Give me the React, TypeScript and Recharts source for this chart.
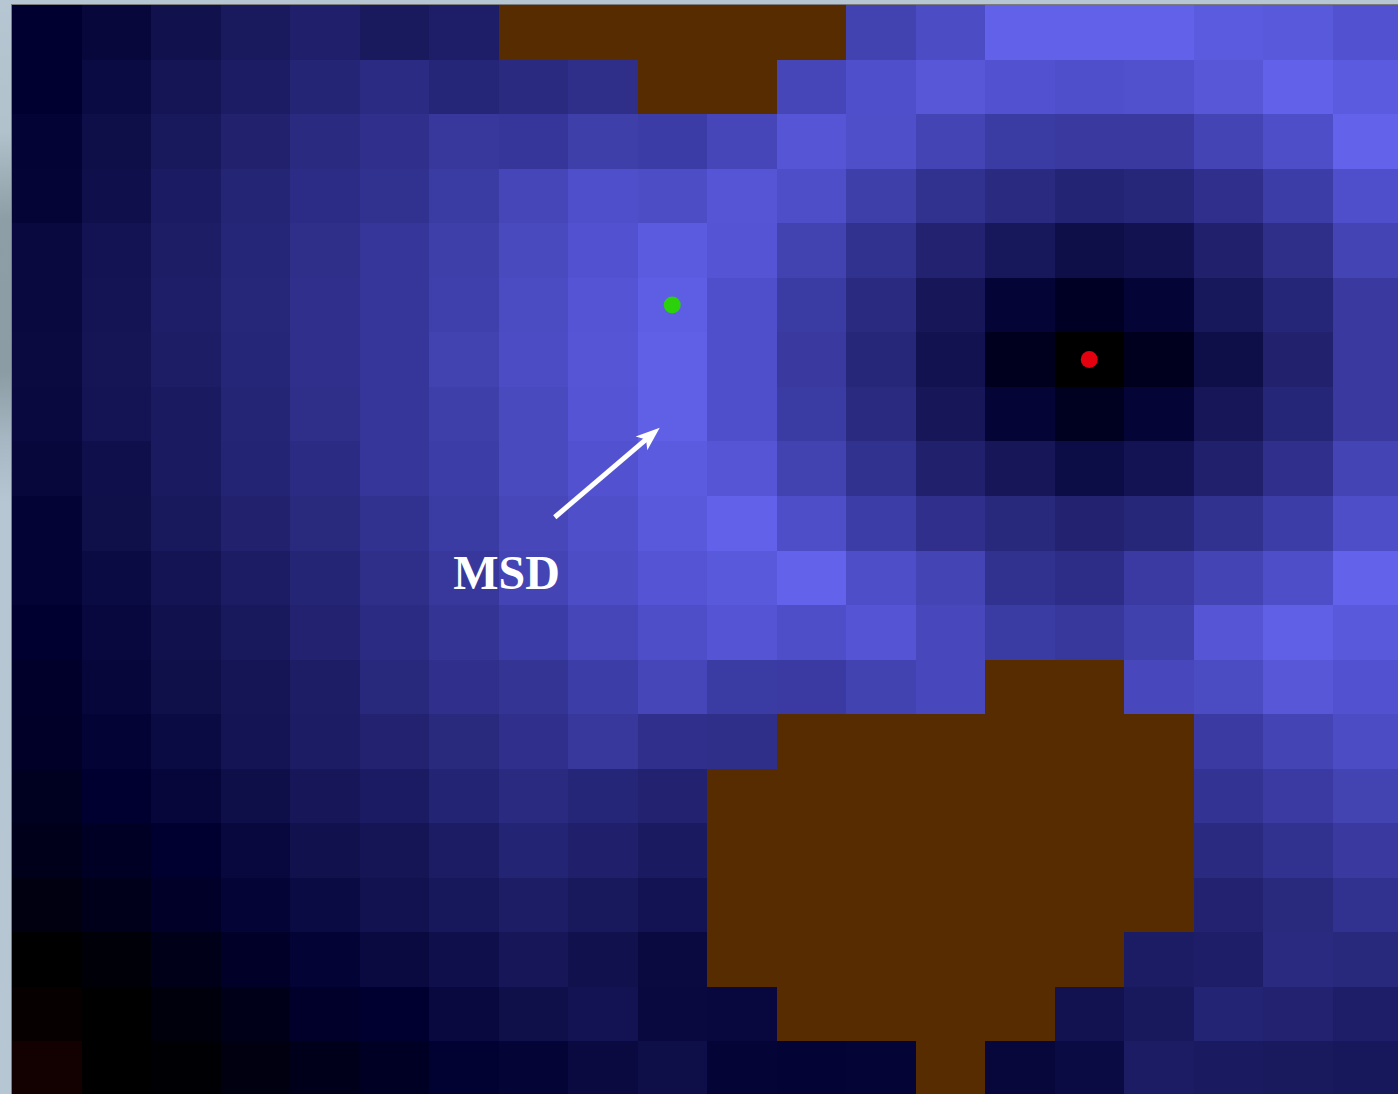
import React from "react";
import { ScatterChart, Scatter, XAxis, YAxis, ReferenceDot } from "recharts";

// grid is 20 x 20 cells, row 0 at the top; null = masked (solid block)
const COLS = 20;
const ROWS = 20;
const CELL_W = 69.5;
const CELL_H = 54.55;
const CHART_W = COLS * CELL_W;
const CHART_H = ROWS * CELL_H;

const MASK_COLOR = "#562c00";

const N = null;
const msdRows: (number | null)[][] = [
  [0.12, 0.17, 0.24, 0.3, 0.35, 0.3, 0.34, N, N, N, N, N, 0.66, 0.765, 0.99, 0.99, 0.99, 0.93, 0.905, 0.83],
  [0.12, 0.2, 0.27, 0.325, 0.39, 0.45, 0.4, 0.435, 0.48, N, N, 0.7, 0.8, 0.88, 0.83, 0.8, 0.82, 0.88, 0.99, 0.93],
  [0.14, 0.22, 0.295, 0.36, 0.435, 0.49, 0.56, 0.55, 0.63, 0.61, 0.7, 0.865, 0.795, 0.68, 0.6, 0.58, 0.58, 0.68, 0.785, 1.0],
  [0.15, 0.23, 0.32, 0.39, 0.46, 0.5, 0.6, 0.7, 0.8, 0.775, 0.865, 0.785, 0.63, 0.5, 0.435, 0.385, 0.41, 0.49, 0.62, 0.8],
  [0.185, 0.26, 0.33, 0.4, 0.48, 0.55, 0.63, 0.74, 0.83, 0.93, 0.85, 0.66, 0.5, 0.37, 0.29, 0.22, 0.25, 0.355, 0.48, 0.68],
  [0.185, 0.265, 0.34, 0.41, 0.49, 0.55, 0.64, 0.755, 0.85, 0.96, 0.8, 0.6, 0.435, 0.28, 0.15, 0.09, 0.15, 0.29, 0.4, 0.58],
  [0.19, 0.27, 0.33, 0.4, 0.49, 0.55, 0.66, 0.765, 0.865, 0.975, 0.8, 0.58, 0.41, 0.25, 0.075, 0.0, 0.075, 0.22, 0.36, 0.58],
  [0.185, 0.265, 0.31, 0.39, 0.48, 0.55, 0.63, 0.74, 0.85, 0.975, 0.8, 0.6, 0.435, 0.28, 0.15, 0.08, 0.15, 0.28, 0.4, 0.58],
  [0.17, 0.23, 0.31, 0.385, 0.45, 0.55, 0.62, 0.74, 0.83, 0.93, 0.865, 0.66, 0.5, 0.355, 0.28, 0.21, 0.26, 0.355, 0.49, 0.68],
  [0.145, 0.225, 0.295, 0.36, 0.425, 0.5, 0.6, 0.71, 0.795, 0.905, 0.99, 0.785, 0.62, 0.49, 0.42, 0.37, 0.41, 0.5, 0.62, 0.785],
  [0.14, 0.2, 0.265, 0.325, 0.39, 0.48, 0.56, 0.68, 0.775, 0.85, 0.905, 1.0, 0.785, 0.68, 0.5, 0.47, 0.59, 0.68, 0.785, 1.0],
  [0.12, 0.18, 0.24, 0.295, 0.37, 0.45, 0.53, 0.61, 0.7, 0.785, 0.85, 0.785, 0.85, 0.72, 0.6, 0.56, 0.65, 0.865, 0.975, 0.905],
  [0.105, 0.16, 0.225, 0.27, 0.33, 0.42, 0.49, 0.53, 0.62, 0.7, 0.6, 0.59, 0.66, 0.72, N, N, 0.72, 0.755, 0.88, 0.83],
  [0.1, 0.145, 0.2, 0.265, 0.325, 0.37, 0.425, 0.49, 0.56, 0.49, 0.48, N, N, N, N, N, N, 0.59, 0.68, 0.765],
  [0.08, 0.12, 0.16, 0.22, 0.28, 0.32, 0.385, 0.435, 0.4, 0.37, N, N, N, N, N, N, N, 0.52, 0.59, 0.67],
  [0.065, 0.09, 0.12, 0.18, 0.24, 0.27, 0.325, 0.385, 0.35, 0.31, N, N, N, N, N, N, N, 0.44, 0.5, 0.58],
  [0.04, 0.065, 0.1, 0.15, 0.2, 0.25, 0.29, 0.33, 0.295, 0.26, N, N, N, N, N, N, N, 0.37, 0.425, 0.5],
  [0.0, 0.02, 0.06, 0.1, 0.145, 0.19, 0.23, 0.28, 0.24, 0.19, N, N, N, N, N, N, 0.325, 0.34, 0.435, 0.42],
  [-0.03, 0.0, 0.03, 0.06, 0.105, 0.12, 0.185, 0.225, 0.26, 0.185, 0.18, N, N, N, N, 0.25, 0.295, 0.385, 0.37, 0.34],
  [-0.08, 0.0, 0.01, 0.04, 0.065, 0.09, 0.13, 0.15, 0.19, 0.22, 0.15, 0.14, 0.15, N, 0.17, 0.2, 0.325, 0.31, 0.3, 0.29],
];

// markers (cell centres)
const startPoint = [{ x: 9.5, y: 5.5 }];
const minPoint = [{ x: 15.5, y: 6.5 }];

// annotation arrow (tail -> head) and label, in grid units
const arrowPath = [
  { x: 7.81, y: 9.39 },
  { x: 9.32, y: 7.75 },
];
const labelAt = { x: 6.35, y: 10.7 };

// value -> rgb, dark red below zero, black, navy, up to light violet-blue
const STOPS: [number, [number, number, number]][] = [
  [-0.1, [24, 0, 0]],
  [0, [0, 0, 0]],
  [0.12, [0, 0, 48]],
  [0.25, [18, 18, 80]],
  [0.4, [38, 38, 120]],
  [0.55, [54, 54, 154]],
  [0.7, [70, 70, 184]],
  [0.85, [84, 84, 212]],
  [1.0, [98, 98, 234]],
];

function colorFor(v: number | null) {
  if (v === null) return MASK_COLOR;
  if (v <= STOPS[0][0]) return `rgb(${STOPS[0][1].join(",")})`;
  for (let i = 1; i < STOPS.length; i++) {
    const [v1, c1] = STOPS[i];
    if (v <= v1) {
      const [v0, c0] = STOPS[i - 1];
      const t = (v - v0) / (v1 - v0);
      const c = c0.map((a, k) => Math.round(a + (c1[k] - a) * t));
      return `rgb(${c.join(",")})`;
    }
  }
  return `rgb(${STOPS[STOPS.length - 1][1].join(",")})`;
}

const cells = msdRows.flatMap((row, r) =>
  row.map((v, c) => ({ x: c + 0.5, y: r + 0.5, v }))
);

const CellShape = (props: any) => {
  const { cx, cy, payload } = props;
  return (
    <rect
      x={cx - CELL_W / 2}
      y={cy - CELL_H / 2}
      width={CELL_W}
      height={CELL_H}
      fill={colorFor(payload.v)}
      shapeRendering="crispEdges"
    />
  );
};

const dotShape = (fill: string) => (props: any) =>
  <circle cx={props.cx} cy={props.cy} r={8.5} fill={fill} />;

const noShape = () => <g />;

// scatter "line" renderer: straight shaft with a filled head at the last point
const arrowLine = (props: any) => {
  const pts = props.points || [];
  if (pts.length < 2) return <g />;
  const { x: x1, y: y1 } = pts[0];
  const { x: x2, y: y2 } = pts[pts.length - 1];
  const dx = x2 - x1;
  const dy = y2 - y1;
  const len = Math.hypot(dx, dy);
  const ux = dx / len;
  const uy = dy / len;
  const headL = 24;
  const headW = 9;
  const bx = x2 - ux * headL;
  const by = y2 - uy * headL;
  const head = [
    [x2, y2],
    [bx - uy * headW, by + ux * headW],
    [bx + ux * 6, by + uy * 6],
    [bx + uy * headW, by - ux * headW],
  ]
    .map((p) => p.join(","))
    .join(" ");
  return (
    <g>
      <line x1={x1} y1={y1} x2={bx + ux * 8} y2={by + uy * 8} stroke="#ffffff" strokeWidth={5} />
      <polygon points={head} fill="#ffffff" />
    </g>
  );
};

const LabelShape = (props: any) => (
  <text
    x={props.cx}
    y={props.cy}
    fill="#ffffff"
    fontFamily="'Liberation Serif', 'Times New Roman', serif"
    fontWeight="bold"
    fontSize={48}
  >
    MSD
  </text>
);

export default function App() {
  return (
    <div
      style={{
        position: "absolute",
        left: 0,
        top: 0,
        width: 1398,
        height: 1094,
        overflow: "hidden",
        background:
          "linear-gradient(180deg, #b6c6d2 0%, #b2c2cc 12%, #8e9ea6 20%, #8c9ca4 34%, #a6b6c2 40%, #b6c6d2 46%, #b6c6d2 100%)",
      }}
    >
      <div
        style={{
          position: "absolute",
          left: 11,
          top: 4,
          borderLeft: "1px solid #7c7c7c",
          borderTop: "1px solid #7c7c7c",
        }}
      >
        <ScatterChart width={CHART_W} height={CHART_H} margin={{ top: 0, right: 0, bottom: 0, left: 0 }}>
          <XAxis type="number" dataKey="x" domain={[0, COLS]} hide />
          <YAxis type="number" dataKey="y" domain={[0, ROWS]} reversed hide />
          <Scatter data={cells} shape={CellShape} isAnimationActive={false} />
          <Scatter data={startPoint} shape={dotShape("#2bd10a")} isAnimationActive={false} />
          <Scatter data={minPoint} shape={dotShape("#e3000f")} isAnimationActive={false} />
          <Scatter data={arrowPath} shape={noShape} line={arrowLine} isAnimationActive={false} />
          <ReferenceDot x={labelAt.x} y={labelAt.y} r={0} shape={LabelShape} />
        </ScatterChart>
      </div>
    </div>
  );
}
